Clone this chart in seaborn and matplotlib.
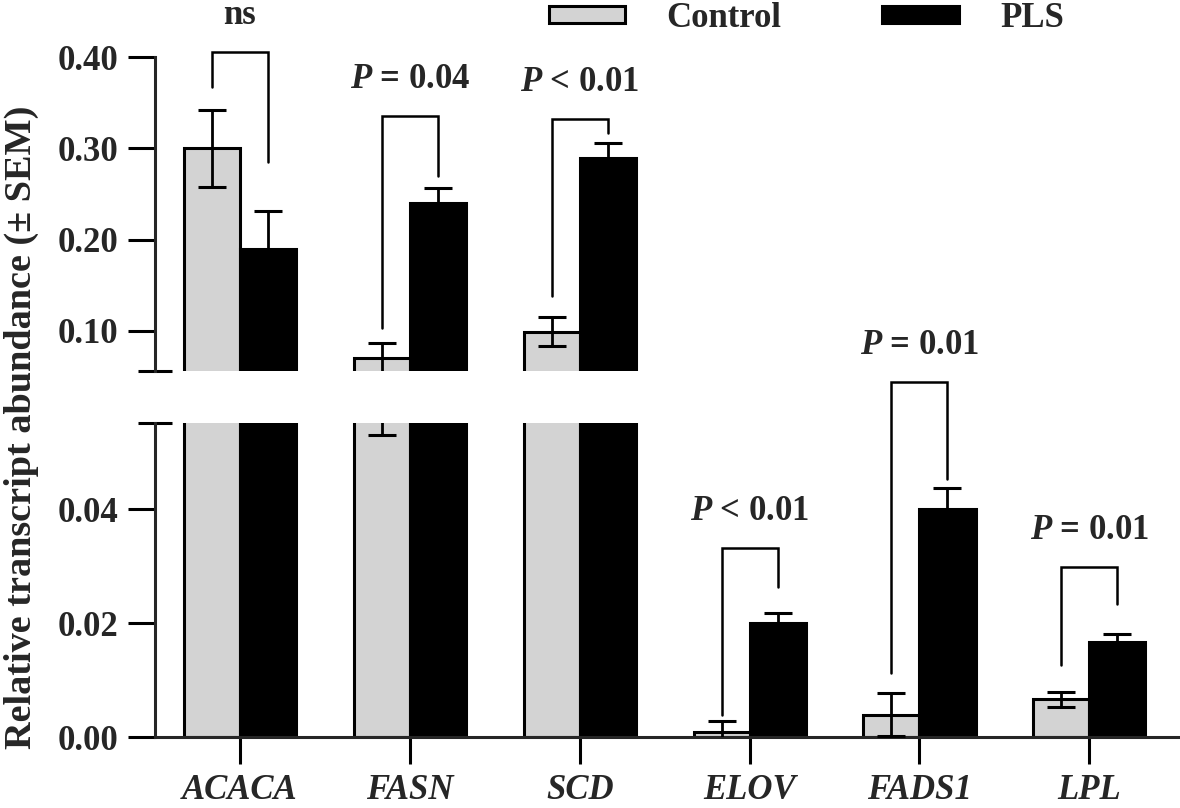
import numpy as np
import pandas as pd
import matplotlib
matplotlib.use("Agg")
import matplotlib.pyplot as plt
import seaborn as sns

# data (means and SEM)
genes = ["ACACA", "FASN", "SCD", "ELOV", "FADS1", "LPL"]
groups = ["Control", "PLS"]
control_mean = [0.30, 0.07, 0.099, 0.001, 0.004, 0.0067]
control_sem = [0.042, 0.017, 0.016, 0.0018, 0.0037, 0.0013]
pls_mean = [0.19, 0.24, 0.29, 0.020, 0.040, 0.0168]
pls_sem = [0.042, 0.017, 0.016, 0.0018, 0.0037, 0.0013]
p_labels = ["ns", "$P$ = 0.04", "$P$ < 0.01", "$P$ < 0.01", "$P$ = 0.01", "$P$ = 0.01"]
# significance brackets: top level, left leg end, right leg end
bracket_top = [0.4055, 0.3356, 0.3323, 0.0332, 0.0624, 0.0299]
bracket_left = [0.367, 0.1035, 0.1383, 0.0040, 0.0112, 0.0126]
bracket_right = [0.2855, 0.27, 0.3173, 0.0263, 0.0453, 0.0234]

df = pd.DataFrame({
    "gene": genes * 2,
    "group": ["Control"] * len(genes) + ["PLS"] * len(genes),
    "value": control_mean + pls_mean,
})
sems = [control_sem, pls_sem]

sns.set_style("ticks")
plt.rcParams["font.family"] = ["Liberation Serif", "DejaVu Serif"]
plt.rcParams["font.weight"] = "bold"
plt.rcParams["mathtext.fontset"] = "custom"
plt.rcParams["mathtext.it"] = "Liberation Serif:italic:bold"
plt.rcParams["mathtext.rm"] = "Liberation Serif:bold"

palette = {"Control": "#d3d3d3", "PLS": "black"}
lw = 2.2
fs = 25

fig = plt.figure(figsize=(11.8, 8.08), dpi=100)
left, width = 0.1314, 0.8666
ax_top = fig.add_axes([left, 0.5408, width, 0.3883])
ax_bot = fig.add_axes([left, 0.0875, width, 0.3894])
break_lo, break_hi = 0.0552, 0.056

for ax in (ax_top, ax_bot):
    sns.barplot(data=df, x="gene", y="value", hue="group", hue_order=groups,
                palette=palette, width=0.66, edgecolor="black", linewidth=lw,
                errorbar=None, legend=False, ax=ax)
    for cont, err in zip(ax.containers, sems):
        xc = [p.get_x() + p.get_width() / 2 for p in cont]
        hts = [p.get_height() for p in cont]
        ax.errorbar(xc, hts, yerr=err, fmt="none", ecolor="black",
                    elinewidth=2.0, capsize=10, capthick=2.2, zorder=3)
    ax.set_xlim(-0.5, 5.52)
    ax.set_xlabel("")
    ax.set_ylabel("")
    sns.despine(ax=ax)
    for s in ax.spines.values():
        s.set_linewidth(lw)
    ax.tick_params(axis="both", direction="out", length=19.5, width=lw,
                   labelsize=fs, pad=7, color="black")

ax_top.set_ylim(break_hi, 0.40)
ax_bot.set_ylim(0, break_lo)
ax_top.set_yticks([0.10, 0.20, 0.30, 0.40])
ax_bot.set_yticks([0.00, 0.02, 0.04])
for ax in (ax_top, ax_bot):
    ax.yaxis.set_major_formatter(matplotlib.ticker.FormatStrFormatter("%.2f"))
ax_top.spines["bottom"].set_visible(False)
ax_top.tick_params(axis="x", bottom=False, labelbottom=False)
for lbl in ax_bot.get_xticklabels():
    lbl.set_style("italic")

# axis break marks
ax_top.plot(0, 0, marker="_", ms=24.5, mew=lw, color="black",
            transform=ax_top.transAxes, clip_on=False)
ax_bot.plot(0, 1, marker="_", ms=24.5, mew=lw, color="black",
            transform=ax_bot.transAxes, clip_on=False)

# significance brackets
c0, c1 = ax_bot.containers[0], ax_bot.containers[1]
for i in range(len(genes)):
    ax = ax_top if bracket_left[i] > break_lo else ax_bot
    xl = c0[i].get_x() + c0[i].get_width() / 2
    xr = c1[i].get_x() + c1[i].get_width() / 2
    ax.plot([xl, xl, xr, xr],
            [bracket_left[i], bracket_top[i], bracket_top[i], bracket_right[i]],
            color="black", lw=1.8, clip_on=False, solid_joinstyle="miter")
    ax.annotate(p_labels[i], xy=((xl + xr) / 2, bracket_top[i]),
                xytext=(0, 20), textcoords="offset points",
                ha="center", va="baseline", fontsize=fs, annotation_clip=False)

fig.legend(handles=list(ax_top.containers), labels=groups, loc="center",
           bbox_to_anchor=(0.6835, 0.977), ncol=2, frameon=False,
           fontsize=fs, handlelength=2.2, handleheight=0.36,
           handletextpad=1.2, columnspacing=2.9, borderpad=0)

fig.text(0.018, 0.4715, "Relative transcript abundance (\u00b1 SEM)",
         rotation=90, ha="center", va="center", fontsize=27.5)

fig.savefig("out.png", dpi=100)
